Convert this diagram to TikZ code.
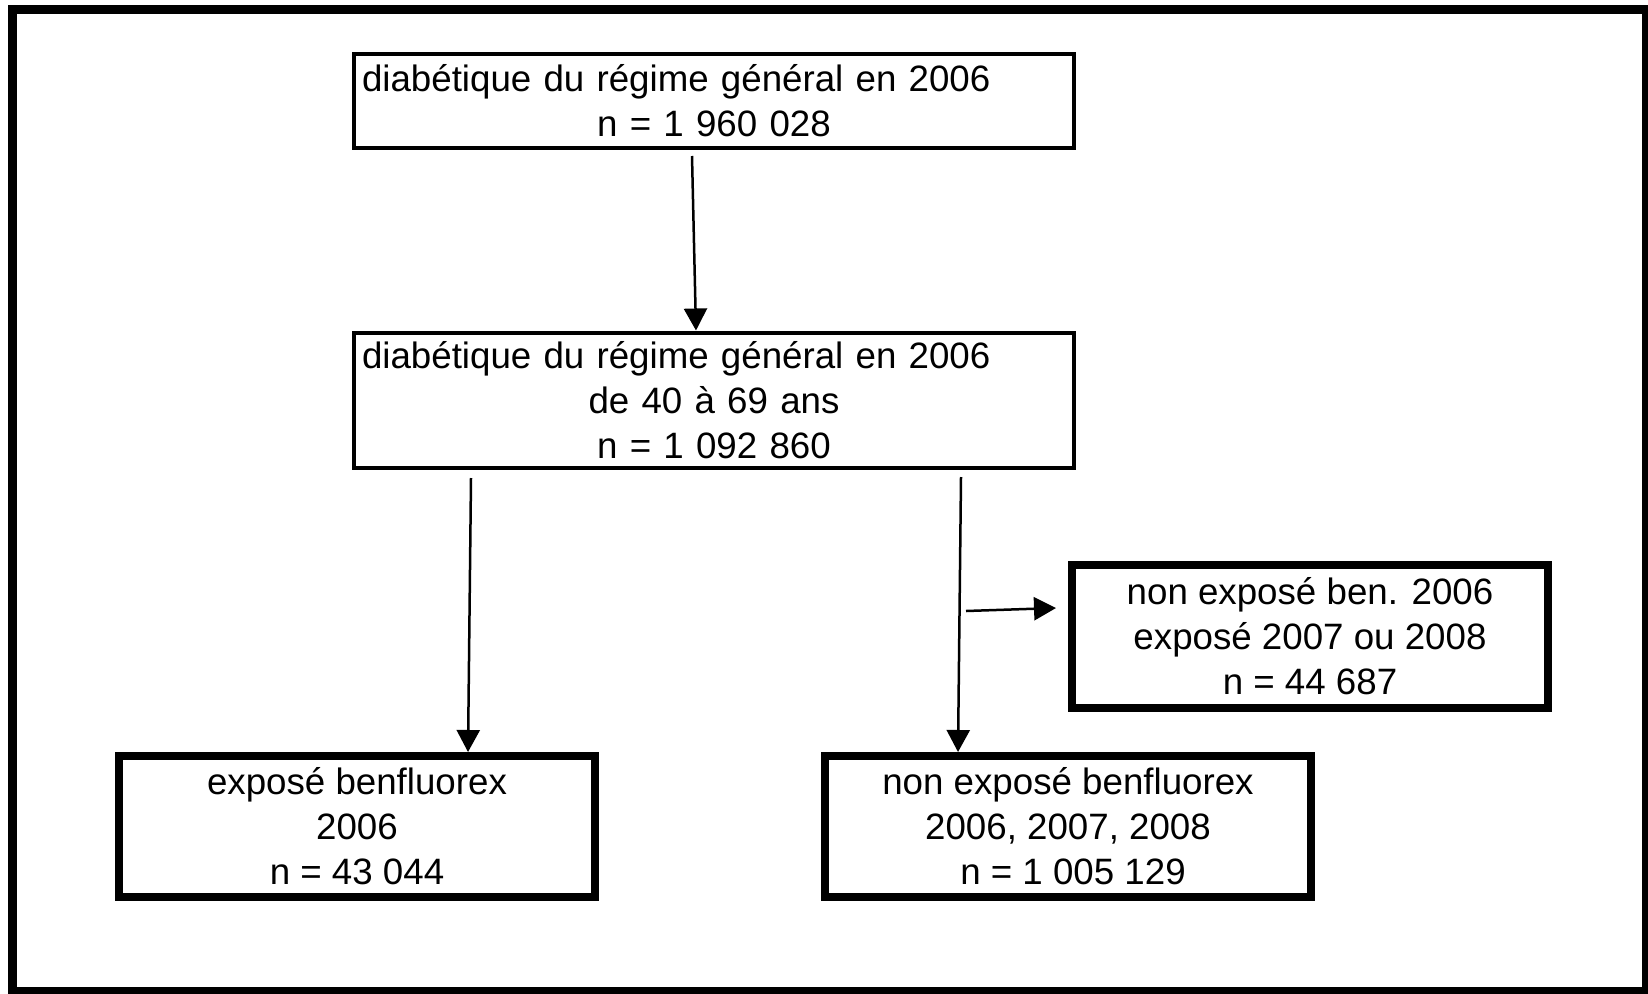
\documentclass[tikz,border=0pt]{standalone}
\usepackage{fontspec}
\setmainfont{Liberation Sans}
\usepackage{tikz}
\usetikzlibrary{arrows.meta}
\tikzset{
  font={\fontsize{36.7pt}{45pt}\selectfont}}

\begin{document}
\begin{tikzpicture}[x=1pt,y=1pt]
\tikzstyle{every node}+=[inner sep=0pt]
\tikzstyle{thinbox}=[draw, line width=4pt, inner xsep=8pt, text width=704pt, align=center]
\tikzstyle{thickbox}=[draw, line width=8pt, align=center]
\tikzstyle{flow}=[line width=2.5pt, -{Triangle[length=22pt,width=23pt]}]
\useasboundingbox (0,0) rectangle (1648,-993);
\draw [black, line width=9pt] (12.5,-9) rectangle (1646,-991);
% boxes
\node [thinbox, minimum width=720pt, minimum height=94pt] (all) at (714,-101)
  {\makebox[\linewidth][l]{diabétique du régime général en 2006}\\ n = 1 960 028};
\node [thinbox, minimum width=720pt, minimum height=135pt] (age) at (714,-400)
  {\makebox[\linewidth][l]{diabétique du régime général en 2006}\\ de 40 à 69 ans\\ n = 1 092 860};
\node [thickbox, minimum width=476pt, minimum height=141pt] (expo) at (357,-826.5)
  {exposé benfluorex\\ 2006\\ n = 43 044};
\node [thickbox, minimum width=486pt, minimum height=141pt] (nonexpo) at (1068,-826.5)
  {non exposé benfluorex\\ 2006, 2007, 2008\\ \hspace*{10pt}n = 1 005 129};
\node [thickbox, minimum width=476pt, minimum height=143pt] (later) at (1310,-636.5)
  {non exposé ben. 2006\\ exposé 2007 ou 2008\\ n = 44 687};
% arrows
\coordinate (allout) at ([shift={(-22pt,-6pt)}]all.south);
\coordinate (ageleft) at ([shift={(-243pt,-8.5pt)}]age.south);
\coordinate (ageright) at ([shift={(247pt,-7.5pt)}]age.south);
\coordinate (sideout) at (966,-611);
\draw [flow] (allout) -- ([xshift=-18pt]age.north);
\draw [flow] (ageleft) -- ([xshift=111pt]expo.north);
\draw [flow] (ageright) -- ([xshift=-110pt]nonexpo.north);
\draw [flow] (sideout) -- ([shift={(-12pt,28.5pt)}]later.west);
\end{tikzpicture}
\end{document}
